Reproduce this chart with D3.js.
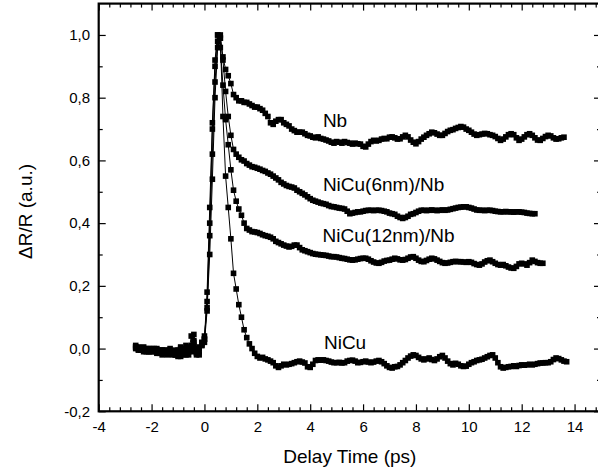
<!DOCTYPE html>
<html>
<head>
<meta charset="utf-8">
<script src="https://cdn.jsdelivr.net/npm/d3@7"></script>
<style>
  body { margin: 0; background: #fff; }
  svg { display: block; font-family: "Liberation Sans", Arial, sans-serif; }
</style>
</head>
<body>
<svg id="chart" width="598" height="473"></svg>
<script>
// pump-probe delay (ps), one entry per sample
const delay = [
  -2.6, -2.5, -2.4, -2.3, -2.2, -2.1,
  -2.0, -1.9, -1.8, -1.7, -1.6, -1.5, -1.4, -1.3, -1.2, -1.1,
  -1.0, -0.9, -0.8, -0.7, -0.6, -0.5, -0.4, -0.3, -0.2, -0.1,
  0.0, 0.1, 0.2, 0.3, 0.4, 0.5, 0.6, 0.7, 0.8, 0.9,
  1.0, 1.1, 1.2, 1.3, 1.4, 1.5, 1.6, 1.7, 1.8, 1.9,
  2.0, 2.1, 2.2, 2.3, 2.4, 2.5, 2.6, 2.7, 2.8, 2.9,
  3.0, 3.1, 3.2, 3.3, 3.4, 3.5, 3.6, 3.7, 3.8, 3.9,
  4.0, 4.1, 4.2, 4.3, 4.4, 4.5, 4.6, 4.7, 4.8, 4.9,
  5.0, 5.1, 5.2, 5.3, 5.4, 5.5, 5.6, 5.7, 5.8, 5.9,
  6.0, 6.1, 6.2, 6.3, 6.4, 6.5, 6.6, 6.7, 6.8, 6.9,
  7.0, 7.1, 7.2, 7.3, 7.4, 7.5, 7.6, 7.7, 7.8, 7.9,
  8.0, 8.1, 8.2, 8.3, 8.4, 8.5, 8.6, 8.7, 8.8, 8.9,
  9.0, 9.1, 9.2, 9.3, 9.4, 9.5, 9.6, 9.7, 9.8, 9.9,
  10.0, 10.1, 10.2, 10.3, 10.4, 10.5, 10.6, 10.7, 10.8, 10.9,
  11.0, 11.1, 11.2, 11.3, 11.4, 11.5, 11.6, 11.7, 11.8, 11.9,
  12.0, 12.1, 12.2, 12.3, 12.4, 12.5, 12.6, 12.7, 12.8, 12.9,
  13.0, 13.1, 13.2, 13.3, 13.4, 13.5, 13.6, 13.7
];

// dR/R for each sample, normalised to the peak
const nb = [
  0.01, 0.005, 0.0, -0.005, 0.0, -0.005,
  -0.01, -0.005, 0.0, -0.01, -0.005, -0.015, -0.01, 0.0, -0.01, -0.02,
  -0.005, 0.005, -0.01, -0.02, 0.0, 0.01, 0.02, -0.01, 0.0, 0.015,
  0.03, 0.15, 0.40, 0.70, 0.92, 1.0, 0.99, 0.93, 0.89, 0.87,
  0.845, 0.81, 0.80, 0.79, 0.79, 0.785, 0.785, 0.78, 0.775, 0.77,
  0.77, 0.765, 0.76, 0.75, 0.74, 0.72, 0.715, 0.725, 0.73, 0.73,
  0.72, 0.715, 0.71, 0.70, 0.695, 0.69, 0.69, 0.69, 0.685, 0.68,
  0.678, 0.674, 0.672, 0.675, 0.67, 0.668, 0.665, 0.662, 0.658, 0.655,
  0.66, 0.658, 0.655, 0.66, 0.657, 0.655, 0.652, 0.655, 0.653, 0.652,
  0.645, 0.643, 0.652, 0.66, 0.664, 0.662, 0.664, 0.668, 0.67, 0.669,
  0.674, 0.675, 0.672, 0.668, 0.669, 0.675, 0.68, 0.675, 0.665, 0.658,
  0.653, 0.66, 0.668, 0.674, 0.68, 0.685, 0.69, 0.688, 0.684, 0.68,
  0.68, 0.686, 0.692, 0.696, 0.698, 0.702, 0.705, 0.708, 0.706, 0.70,
  0.696, 0.69, 0.684, 0.68, 0.682, 0.684, 0.686, 0.685, 0.682, 0.68,
  0.676, 0.67, 0.664, 0.668, 0.675, 0.682, 0.685, 0.682, 0.672, 0.664,
  0.668, 0.675, 0.682, 0.685, 0.68, 0.672, 0.665, 0.664, 0.67, 0.676,
  0.68, 0.678, 0.672, 0.668, 0.669, 0.672, 0.674
];

const nicu6 = [
  0.005, 0.0, -0.005, 0.0, -0.01, 0.0,
  -0.005, -0.01, -0.015, -0.005, -0.01, -0.005, -0.02, -0.01, -0.015, -0.005,
  -0.025, -0.01, 0.0, -0.015, -0.02, 0.04, 0.01, -0.015, 0.005, 0.02,
  0.02, 0.12, 0.36, 0.62, 0.85, 0.98, 1.0, 0.92, 0.82, 0.74,
  0.68, 0.635, 0.62, 0.61, 0.602, 0.598, 0.59, 0.585, 0.58, 0.578,
  0.575, 0.572, 0.568, 0.565, 0.56, 0.556, 0.55, 0.544, 0.538, 0.53,
  0.525, 0.52, 0.517, 0.515, 0.512, 0.505, 0.50, 0.495, 0.49, 0.484,
  0.478, 0.473, 0.47, 0.467, 0.464, 0.462, 0.46, 0.456, 0.453, 0.452,
  0.45, 0.448, 0.447, 0.445, 0.438, 0.43, 0.432, 0.434, 0.436, 0.436,
  0.438, 0.44, 0.441, 0.441, 0.44, 0.441, 0.441, 0.44, 0.438, 0.436,
  0.432, 0.43, 0.428, 0.422, 0.418, 0.415, 0.418, 0.422, 0.428, 0.43,
  0.434, 0.438, 0.441, 0.441, 0.44, 0.441, 0.442, 0.441, 0.44, 0.441,
  0.442, 0.441, 0.442, 0.444, 0.446, 0.448, 0.45, 0.451, 0.452, 0.452,
  0.45, 0.448, 0.445, 0.442, 0.441, 0.441, 0.44, 0.441, 0.441, 0.44,
  0.438, 0.437, 0.436, 0.436, 0.437, 0.436, 0.436, 0.435, 0.436, 0.436,
  0.435, 0.434, 0.432, 0.431, 0.43, 0.43
];

const nicu12 = [
  0.0, -0.005, -0.005, -0.01, -0.005, -0.01,
  0.0, -0.005, -0.01, -0.015, -0.005, -0.01, -0.015, -0.005, -0.02, -0.01,
  -0.015, -0.025, -0.005, 0.01, -0.01, 0.0, 0.025, -0.02, -0.01, 0.01,
  0.03, 0.18, 0.45, 0.72, 0.90, 1.0, 0.96, 0.84, 0.73, 0.65,
  0.57, 0.505, 0.47, 0.445, 0.425, 0.40, 0.383, 0.378, 0.373, 0.372,
  0.37, 0.367, 0.363, 0.36, 0.358, 0.355, 0.35, 0.342, 0.338, 0.334,
  0.33, 0.327, 0.324, 0.326, 0.33, 0.33, 0.322, 0.315, 0.312, 0.309,
  0.306, 0.303, 0.301, 0.30, 0.299, 0.298, 0.297, 0.295, 0.293, 0.293,
  0.292, 0.29, 0.288, 0.287, 0.285, 0.283, 0.282, 0.283, 0.285, 0.287,
  0.288, 0.288, 0.285, 0.28, 0.276, 0.273, 0.272, 0.275, 0.279, 0.281,
  0.282, 0.285, 0.288, 0.286, 0.283, 0.282, 0.284, 0.288, 0.292, 0.293,
  0.288, 0.282, 0.278, 0.277, 0.281, 0.285, 0.288, 0.286, 0.282, 0.278,
  0.274, 0.272, 0.273, 0.275, 0.277, 0.278, 0.277, 0.277, 0.276, 0.275,
  0.277, 0.275, 0.271, 0.268, 0.266, 0.27, 0.276, 0.28, 0.282, 0.277,
  0.272, 0.268, 0.266, 0.268, 0.264, 0.26, 0.257, 0.256, 0.262, 0.27,
  0.272, 0.27, 0.266, 0.274, 0.282, 0.278, 0.274, 0.272, 0.272
];

const nicu = [
  0.005, 0.0, -0.005, 0.005, -0.005, -0.01,
  -0.005, 0.0, -0.005, -0.01, -0.02, -0.01, -0.005, -0.015, -0.01, -0.02,
  -0.01, 0.0, -0.02, -0.01, 0.005, -0.01, 0.045, 0.0, -0.02, 0.01,
  0.04, 0.13, 0.30, 0.54, 0.80, 0.96, 0.99, 0.74, 0.55, 0.45,
  0.35, 0.24, 0.19, 0.14, 0.10, 0.06, 0.035, 0.015, 0.0, -0.015,
  -0.025, -0.03, -0.028, -0.033, -0.036, -0.04, -0.045, -0.055, -0.06, -0.055,
  -0.05, -0.052, -0.05, -0.048, -0.045, -0.042, -0.04, -0.043, -0.046, -0.058,
  -0.06, -0.05, -0.038, -0.036, -0.037, -0.036, -0.038, -0.04, -0.043, -0.045,
  -0.045, -0.044, -0.046, -0.045, -0.04, -0.038, -0.037, -0.04, -0.045, -0.044,
  -0.042, -0.04, -0.043, -0.045, -0.043, -0.04, -0.038, -0.042, -0.048, -0.055,
  -0.06, -0.062, -0.058, -0.057, -0.052, -0.045, -0.038, -0.03, -0.024, -0.02,
  -0.022, -0.028, -0.033, -0.036, -0.033, -0.03, -0.035, -0.038, -0.033, -0.026,
  -0.022, -0.03, -0.04, -0.048, -0.052, -0.047, -0.05, -0.055, -0.057, -0.056,
  -0.05, -0.045, -0.042, -0.038, -0.036, -0.034, -0.03, -0.026, -0.022, -0.02,
  -0.03, -0.045, -0.058, -0.062, -0.06, -0.058, -0.057, -0.055, -0.057, -0.054,
  -0.052, -0.053, -0.052, -0.05, -0.052, -0.05, -0.048, -0.046, -0.046, -0.045,
  -0.045, -0.042, -0.035, -0.03, -0.032, -0.036, -0.04, -0.042
];

const seriesNames = ["Nb", "NiCu(6nm)/Nb", "NiCu(12nm)/Nb", "NiCu"];
const seriesValues = [nb, nicu6, nicu12, nicu];

const xTicks = [-4, -2, 0, 2, 4, 6, 8, 10, 12, 14];
const xTickLabels = ["-4", "-2", "0", "2", "4", "6", "8", "10", "12", "14"];
const yTicks = [-0.2, 0.0, 0.2, 0.4, 0.6, 0.8, 1.0];
const yTickLabels = ["-0,2", "0,0", "0,2", "0,4", "0,6", "0,8", "1,0"];

// where each curve label sits (data units: delay, dR/R)
const labelAnchors = [[4.48, 0.706], [4.48, 0.503], [4.47, 0.341], [4.52, -0.002]];

const svg = d3.select("#chart");
const x = d3.scaleLinear().domain([-4, 15]).range([98.7, 601]);
const y = d3.scaleLinear().domain([-0.2, 1.1]).range([411.3, 3.6]);

const xMinor = d3.range(-36, 151, 4).filter(d => d % 20 !== 0).map(d => d / 10);
const yMinor = [-0.1, 0.1, 0.3, 0.5, 0.7, 0.9];

// Curves: thin connecting line plus square markers
const line = d3.line()
  .x((d, i) => x(delay[i]))
  .y(d => y(d));

const marker = 5.6;

seriesValues.forEach(values => {
  const g = svg.append("g");
  g.append("path")
    .attr("d", line(values))
    .attr("fill", "none")
    .attr("stroke", "#000")
    .attr("stroke-width", 1);
  g.selectAll("rect")
    .data(values)
    .join("rect")
    .attr("x", (d, i) => x(delay[i]) - marker / 2)
    .attr("y", d => y(d) - marker / 2)
    .attr("width", marker)
    .attr("height", marker)
    .attr("fill", "#000");
});

// Axis helper: ticks point into the plot
function addAxis(axis, transform, size, labels) {
  const g = svg.append("g")
    .attr("transform", transform)
    .call(axis.tickSizeInner(size).tickSizeOuter(0));
  g.select(".domain").remove();
  g.selectAll(".tick line").attr("stroke", "#000").attr("stroke-width", 1.2);
  g.selectAll("text")
    .attr("font-family", "Liberation Sans, Arial, sans-serif")
    .attr("font-size", 15)
    .attr("fill", "#000");
  if (!labels) g.selectAll("text").remove();
  return g;
}

const bottomY = y(-0.2), topY = y(1.1), leftX = x(-4), rightX = x(15);

addAxis(d3.axisBottom(x).tickValues(xTicks).tickFormat((d, i) => xTickLabels[i]).tickPadding(10),
  `translate(0,${bottomY})`, -7, true);
addAxis(d3.axisBottom(x).tickValues(xMinor).tickFormat(""), `translate(0,${bottomY})`, -4, false);
addAxis(d3.axisTop(x).tickValues(xTicks), `translate(0,${topY})`, -7, false);
addAxis(d3.axisTop(x).tickValues(xMinor), `translate(0,${topY})`, -4, false);

addAxis(d3.axisLeft(y).tickValues(yTicks).tickFormat((d, i) => yTickLabels[i]).tickPadding(8.7),
  `translate(${leftX},0)`, -7, true);
addAxis(d3.axisLeft(y).tickValues(yMinor).tickFormat(""), `translate(${leftX},0)`, -4, false);
addAxis(d3.axisRight(y).tickValues(yTicks), `translate(${rightX},0)`, -7, false);
addAxis(d3.axisRight(y).tickValues(yMinor), `translate(${rightX},0)`, -4, false);

// Frame
svg.append("rect")
  .attr("x", leftX)
  .attr("y", topY)
  .attr("width", rightX - leftX)
  .attr("height", bottomY - topY)
  .attr("fill", "none")
  .attr("stroke", "#000")
  .attr("stroke-width", 2.2);

// Curve labels
svg.selectAll("text.curve-label")
  .data(seriesNames)
  .join("text")
  .attr("class", "curve-label")
  .attr("x", (d, i) => x(labelAnchors[i][0]))
  .attr("y", (d, i) => y(labelAnchors[i][1]))
  .attr("font-size", 19)
  .attr("fill", "#000")
  .text(d => d);

// Axis titles
svg.append("text")
  .attr("x", (leftX + rightX) / 2)
  .attr("y", 463)
  .attr("text-anchor", "middle")
  .attr("font-size", 19)
  .text("Delay Time (ps)");

svg.append("text")
  .attr("transform", `translate(31.5,${(topY + bottomY) / 2 + 4}) rotate(-90)`)
  .attr("text-anchor", "middle")
  .attr("font-size", 19)
  .text("ΔR/R (a.u.)");
</script>
</body>
</html>
